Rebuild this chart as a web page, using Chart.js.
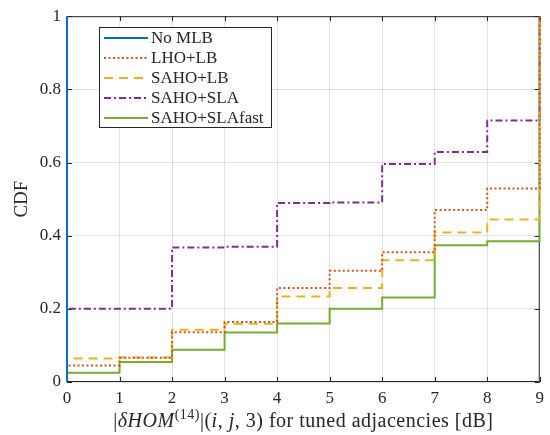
<!DOCTYPE html>
<html>
<head>
<meta charset="utf-8">
<script src="https://cdn.jsdelivr.net/npm/chart.js@4"></script>
<style>
  html, body { margin: 0; padding: 0; background: #fff; }
  canvas { display: block; }
</style>
</head>
<body>
<canvas id="cdf" width="550" height="435"></canvas>
<script>
// bins on the x axis [dB]
const xs = [0, 1, 2, 3, 4, 5, 6, 7, 8, 9];
const yTicks = [0, 0.2, 0.4, 0.6, 0.8, 1];

// empirical CDF values read at each bin
const noMlbX = [0];
const noMlb = [1];
const lhoLb = [0.045, 0.066, 0.136, 0.164, 0.257, 0.304, 0.355, 0.470, 0.529, 1];
const sahoLb = [0.064, 0.067, 0.143, 0.159, 0.234, 0.257, 0.333, 0.409, 0.444, 1];
const sahoSla = [0.2, 0.2, 0.368, 0.370, 0.489, 0.491, 0.596, 0.629, 0.715, 1];
const sahoSlaFast = [0.025, 0.055, 0.088, 0.135, 0.160, 0.200, 0.231, 0.374, 0.385, 1];

const labels = ['No MLB', 'LHO+LB', 'SAHO+LB', 'SAHO+SLA', 'SAHO+SLAfast'];
const colors = ['#0072BD', '#D95319', '#EDB120', '#7E2F8E', '#77AC30'];
const dashes = [[], [2, 2.5], [9, 6], [7, 3, 2, 3], []];

const axisColor = '#262626';
const font = '"Liberation Serif", "DejaVu Serif", serif';

// ecdf style: start at 0, then step up at each x
function cdfPoints(x, y) {
  const pts = [{ x: x[0], y: 0 }];
  x.forEach((v, i) => pts.push({ x: v, y: y[i] }));
  return pts;
}

const series = [
  cdfPoints(noMlbX, noMlb),
  cdfPoints(xs, lhoLb),
  cdfPoints(xs, sahoLb),
  cdfPoints(xs, sahoSla),
  cdfPoints(xs, sahoSlaFast),
];

// box + inward ticks like matlab
const axesBox = {
  id: 'axesBox',
  beforeDatasetsDraw(chart) {
    const { ctx, chartArea: { left, right, top, bottom }, scales: { x, y } } = chart;
    ctx.save();
    ctx.strokeStyle = axisColor;
    ctx.lineWidth = 1;
    ctx.beginPath();
    xs.forEach((v) => {
      const px = Math.round(x.getPixelForValue(v)) + 0.5;
      ctx.moveTo(px, bottom);
      ctx.lineTo(px, bottom - 5);
      ctx.moveTo(px, top);
      ctx.lineTo(px, top + 5);
    });
    yTicks.forEach((v) => {
      const py = Math.round(y.getPixelForValue(v)) + 0.5;
      ctx.moveTo(left, py);
      ctx.lineTo(left + 5, py);
      ctx.moveTo(right, py);
      ctx.lineTo(right - 5, py);
    });
    ctx.stroke();
    ctx.strokeRect(left + 0.5, top + 0.5, right - left - 1, bottom - top - 1);
    ctx.restore();
  },
};

function drawRuns(ctx, runs, cx, baseline) {
  let total = 0;
  runs.forEach((r) => {
    ctx.font = r.f;
    r.w = ctx.measureText(r.t).width;
    total += r.w;
  });
  let px = cx - total / 2;
  runs.forEach((r) => {
    ctx.font = r.f;
    ctx.fillText(r.t, px, baseline + (r.dy || 0));
    px += r.w;
  });
}

const annotations = {
  id: 'annotations',
  afterDatasetsDraw(chart) {
    const { ctx, chartArea: { left, right, top, bottom } } = chart;
    ctx.save();
    ctx.fillStyle = axisColor;
    ctx.textBaseline = 'alphabetic';
    ctx.textAlign = 'left';

    // x title with math parts
    const up = '20px ' + font;
    const it = 'italic 20px ' + font;
    const sup = '14px ' + font;
    ctx.letterSpacing = '0.5px';
    drawRuns(ctx, [
      { t: '|', f: up },
      { t: 'δHOM', f: it },
      { t: '(14)', f: sup, dy: -8 },
      { t: '|(', f: up },
      { t: 'i', f: it },
      { t: ', ', f: up },
      { t: 'j', f: it },
      { t: ', 3) for tuned adjacencies [dB]', f: up },
    ], (left + right) / 2, 427);
    ctx.letterSpacing = '0px';

    // y title
    ctx.save();
    ctx.translate(22, (top + bottom) / 2);
    ctx.rotate(-Math.PI / 2);
    ctx.textAlign = 'center';
    ctx.textBaseline = 'middle';
    ctx.font = '19px ' + font;
    ctx.fillText('CDF', 0, 0);
    ctx.restore();

    // legend
    const bx = 99.5, by = 27.5, bw = 172, bh = 100;
    ctx.fillStyle = '#fff';
    ctx.fillRect(bx, by, bw, bh);
    ctx.strokeStyle = axisColor;
    ctx.lineWidth = 1;
    ctx.strokeRect(bx, by, bw, bh);
    ctx.font = '17px ' + font;
    ctx.textBaseline = 'middle';
    chart.data.datasets.forEach((ds, i) => {
      const ry = 38 + i * 20;
      ctx.strokeStyle = ds.borderColor;
      ctx.lineWidth = 2;
      ctx.setLineDash(ds.borderDash);
      ctx.beginPath();
      ctx.moveTo(104, ry);
      ctx.lineTo(148, ry);
      ctx.stroke();
      ctx.setLineDash([]);
      ctx.fillStyle = axisColor;
      ctx.fillText(ds.label, 151, ry + 1);
    });
    ctx.restore();
  },
};

const tickFormat = (v) => String(Math.round(v * 10) / 10);

new Chart(document.getElementById('cdf'), {
  type: 'line',
  data: {
    datasets: series.map((pts, i) => ({
      label: labels[i],
      data: pts,
      borderColor: colors[i],
      borderDash: dashes[i],
      borderWidth: 2,
      pointRadius: 0,
      stepped: 'before',
      fill: false,
      tension: 0,
      clip: 1,
    })),
  },
  options: {
    responsive: false,
    animation: false,
    layout: { padding: { top: 10, right: 5, left: 0, bottom: 0 } },
    scales: {
      x: {
        type: 'linear',
        min: 0,
        max: 9,
        afterFit: (scale) => { scale.height = 53; },
        afterBuildTicks: (scale) => { scale.ticks = xs.map((v) => ({ value: v })); },
        grid: { color: 'rgba(38,38,38,0.13)', drawTicks: false },
        border: { display: false },
        ticks: { padding: 6, color: axisColor, font: { family: font, size: 17 }, callback: tickFormat },
      },
      y: {
        min: 0,
        max: 1,
        afterFit: (scale) => { scale.width = 67; },
        afterBuildTicks: (scale) => { scale.ticks = yTicks.map((v) => ({ value: v })); },
        grid: { color: 'rgba(38,38,38,0.13)', drawTicks: false },
        border: { display: false },
        ticks: { padding: 6, color: axisColor, font: { family: font, size: 17 }, callback: tickFormat },
      },
    },
    plugins: {
      legend: { display: false },
      tooltip: { enabled: false },
    },
    events: [],
  },
  plugins: [axesBox, annotations],
});
</script>
</body>
</html>
